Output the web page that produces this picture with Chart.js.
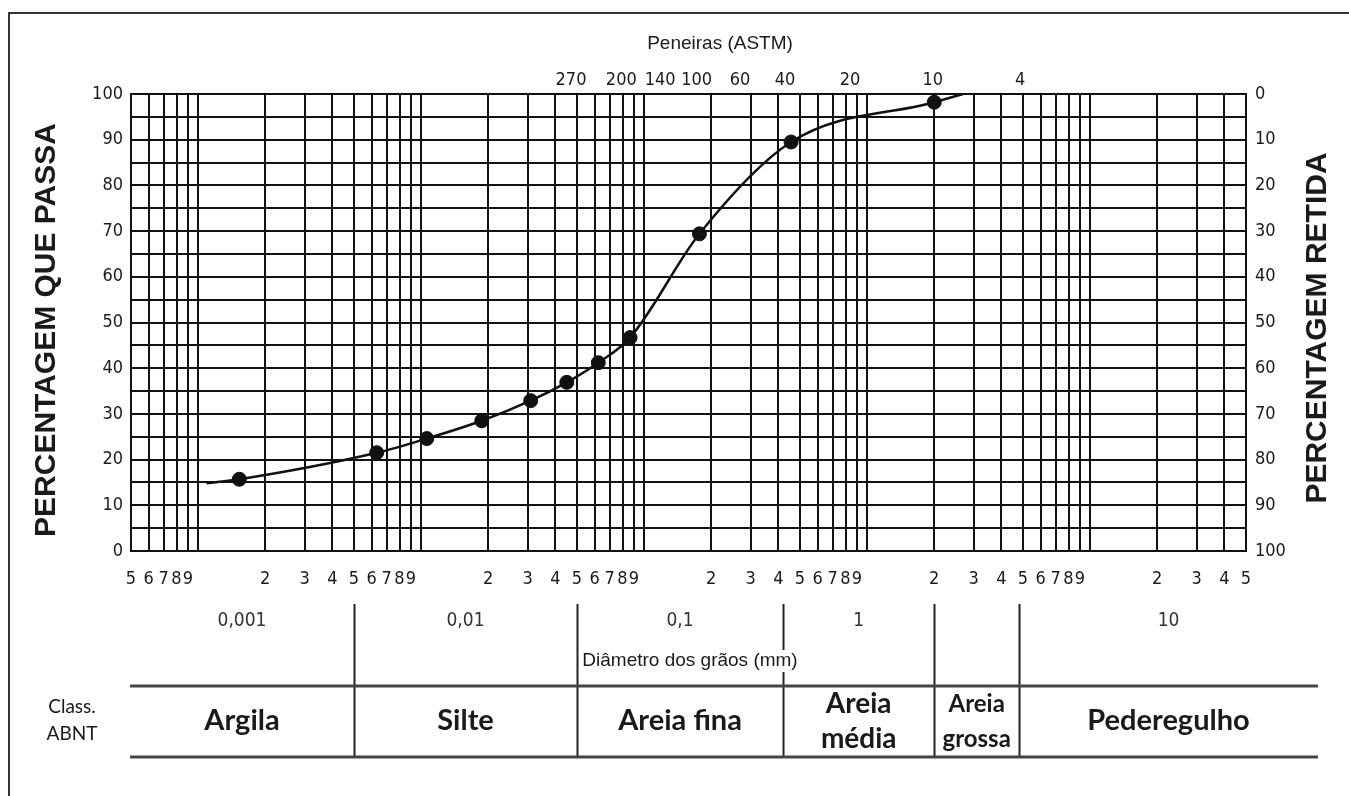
<!DOCTYPE html>
<html>
<head>
<meta charset="utf-8">
<script src="https://cdn.jsdelivr.net/npm/chart.js@4.4.1/dist/chart.umd.min.js"></script>
<style>
  html, body { margin: 0; padding: 0; background: #fff; }
  #wrap { width: 1349px; height: 796px; }
</style>
</head>
<body>
<div id="wrap"><canvas id="myChart"></canvas></div>
<script>
// measured points (diameter mm, % passing)
let pointDiam = [0.00153, 0.00632, 0.0106, 0.0187, 0.031, 0.045, 0.0623, 0.0865, 0.177, 0.456, 2.0];
let pointPass = [15.7, 21.5, 24.6, 28.5, 32.9, 36.9, 41.2, 46.7, 69.4, 89.5, 98.2];

// the drawn curve, with its two loose ends
let curveDiam = [0.00109, 0.00153, 0.00632, 0.0106, 0.0187, 0.031, 0.045, 0.0623, 0.0865, 0.177, 0.456, 2.0, 2.69];
let curvePass = [14.8, 15.7, 21.5, 24.6, 28.5, 32.9, 36.9, 41.2, 46.7, 69.4, 89.5, 98.2, 100];

// bottom axis ticks
let gridDiam = [0.0005, 0.0006, 0.0007, 0.0008, 0.0009,
  0.001, 0.002, 0.003, 0.004, 0.005, 0.006, 0.007, 0.008, 0.009,
  0.01, 0.02, 0.03, 0.04, 0.05, 0.06, 0.07, 0.08, 0.09,
  0.1, 0.2, 0.3, 0.4, 0.5, 0.6, 0.7, 0.8, 0.9,
  1, 2, 3, 4, 5, 6, 7, 8, 9,
  10, 20, 30, 40, 50];
let gridLabels = ["5", "6", "7", "8", "9",
  "", "2", "3", "4", "5", "6", "7", "8", "9",
  "", "2", "3", "4", "5", "6", "7", "8", "9",
  "", "2", "3", "4", "5", "6", "7", "8", "9",
  "", "2", "3", "4", "5", "6", "7", "8", "9",
  "", "2", "3", "4", "5"];

// sieves (top axis)
let sieveDiam = [0.047, 0.079, 0.118, 0.172, 0.269, 0.428, 0.838, 1.97, 4.85];
let sieveLabels = ["270", "200", "140", "100", "60", "40", "20", "10", "4"];

// ABNT classes
let classBounds = [0.005, 0.05, 0.42, 2.0, 4.8];
let classNames = [["Argila"], ["Silte"], ["Areia fina"], ["Areia", "média"], ["Areia", "grossa"], ["Pederegulho"]];
let decadeLabels = ["0,001", "0,01", "0,1", "1", "", "10"];

let tickFont = { family: "'Liberation Sans Narrow', 'DejaVu Sans Condensed', sans-serif", size: 18 };
let ink = "#1a1a1a";

let extras = {
  id: "extras",
  afterDraw(chart) {
    let ctx = chart.ctx;
    let xs = chart.scales.x;
    ctx.save();

    // outer frame
    ctx.strokeStyle = "#333";
    ctx.lineWidth = 2;
    ctx.beginPath();
    ctx.moveTo(9, 796);
    ctx.lineTo(9, 13);
    ctx.lineTo(1349, 13);
    ctx.stroke();

    ctx.fillStyle = ink;
    ctx.textAlign = "center";
    ctx.textBaseline = "middle";

    // titles
    ctx.font = "19px 'Liberation Sans', sans-serif";
    ctx.fillText("Peneiras (ASTM)", 720, 44);

    ctx.font = "bold 30px 'Liberation Sans', sans-serif";
    ctx.save();
    ctx.translate(47, 330);
    ctx.rotate(-Math.PI / 2);
    ctx.fillText("PERCENTAGEM QUE PASSA", 0, 0);
    ctx.restore();
    ctx.save();
    ctx.translate(1318, 328);
    ctx.rotate(-Math.PI / 2);
    ctx.fillText("PERCENTAGEM RETIDA", 0, 0);
    ctx.restore();

    // class table
    let edges = [130].concat(classBounds.map(b => xs.getPixelForValue(b)), [1318]);
    ctx.strokeStyle = "#222";
    ctx.lineWidth = 2;
    for (let i = 0; i < classBounds.length; i++) {
      let px = Math.round(edges[i + 1]) + 0.5;
      ctx.beginPath();
      ctx.moveTo(px, 604);
      ctx.lineTo(px, 757);
      ctx.stroke();
    }
    ctx.strokeStyle = "#444";
    ctx.lineWidth = 3;
    [686, 757].forEach(y => {
      ctx.beginPath();
      ctx.moveTo(130, y);
      ctx.lineTo(1318, y);
      ctx.stroke();
    });

    // decade labels
    ctx.font = "19px 'Liberation Sans Narrow', 'DejaVu Sans Condensed', sans-serif";
    ctx.fillStyle = "#333";
    for (let i = 0; i < decadeLabels.length; i++) {
      ctx.fillText(decadeLabels[i], (edges[i] + edges[i + 1]) / 2, 621);
    }

    // axis name with white backing
    ctx.font = "19px 'Liberation Sans', sans-serif";
    let dt = "Diâmetro dos grãos (mm)";
    let w = ctx.measureText(dt).width;
    ctx.fillStyle = "#fff";
    ctx.fillRect(690 - w / 2 - 3, 650, w + 6, 22);
    ctx.fillStyle = ink;
    ctx.fillText(dt, 690, 661);

    ctx.font = "19px Lato, sans-serif";
    ctx.fillText("Class.", 72, 707);
    ctx.fillText("ABNT", 72, 734);

    for (let i = 0; i < classNames.length; i++) {
      let cx = (edges[i] + edges[i + 1]) / 2;
      let lines = classNames[i];
      if (lines.length === 1) {
        ctx.font = "bold 29px Lato, sans-serif";
        ctx.fillText(lines[0], cx, 721);
      } else {
        ctx.font = (i === 4 ? "bold 24px" : "bold 28px") + " Lato, sans-serif";
        ctx.fillText(lines[0], cx, 704);
        ctx.fillText(lines[1], cx, 739);
      }
    }
    ctx.restore();
  }
};

let mychart = document.getElementById("myChart").getContext("2d");
let gradChart = new Chart(mychart, {
  type: "line",
  data: {
    datasets: [
      {
        label: "curva",
        data: curveDiam.map((d, i) => ({ x: d, y: curvePass[i] })),
        borderColor: "#111",
        borderWidth: 2.5,
        pointRadius: 0,
        cubicInterpolationMode: "monotone",
        fill: false,
      },
      {
        label: "ensaio",
        data: pointDiam.map((d, i) => ({ x: d, y: pointPass[i] })),
        showLine: false,
        pointRadius: 7,
        pointBackgroundColor: "#111",
        pointBorderColor: "#111",
      },
    ],
  },
  options: {
    responsive: true,
    maintainAspectRatio: false,
    animation: false,
    layout: { padding: 0 },
    plugins: { legend: { display: false }, tooltip: { enabled: false } },
    scales: {
      x: {
        type: "logarithmic",
        position: "bottom",
        min: 0.0005,
        max: 50,
        afterBuildTicks: s => { s.ticks = gridDiam.map(v => ({ value: v })); },
        afterFit: s => { s.height = 245; },
        ticks: {
          autoSkip: false, maxRotation: 0, minRotation: 0, padding: 18,
          font: tickFont, color: ink,
          callback: (v, i) => gridLabels[i],
        },
        grid: { color: "#111", lineWidth: 2, drawTicks: false },
        border: { display: true, color: "#111", width: 2 },
      },
      x2: {
        type: "logarithmic",
        position: "top",
        min: 0.0005,
        max: 50,
        afterBuildTicks: s => { s.ticks = sieveDiam.map(v => ({ value: v })); },
        afterFit: s => { s.height = 94; },
        ticks: {
          autoSkip: false, maxRotation: 0, minRotation: 0, padding: 3,
          font: tickFont, color: ink,
          callback: (v, i) => sieveLabels[i],
        },
        grid: { display: false, drawTicks: false },
        border: { display: true, color: "#111", width: 2 },
      },
      y: {
        type: "linear",
        position: "left",
        min: 0,
        max: 100,
        afterFit: s => { s.width = 131; },
        ticks: {
          stepSize: 5, autoSkip: false, padding: 8, font: tickFont, color: ink,
          callback: v => (v % 10 === 0 ? String(v) : ""),
        },
        grid: { color: "#111", lineWidth: 2, drawTicks: false },
        border: { display: true, color: "#111", width: 2 },
      },
      y2: {
        type: "linear",
        position: "right",
        reverse: true,
        min: 0,
        max: 100,
        afterFit: s => { s.width = 103; },
        ticks: { stepSize: 10, autoSkip: false, padding: 9, font: tickFont, color: ink },
        grid: { display: false, drawTicks: false },
        border: { display: true, color: "#111", width: 2 },
      },
    },
  },
  plugins: [extras],
});
</script>
</body>
</html>
